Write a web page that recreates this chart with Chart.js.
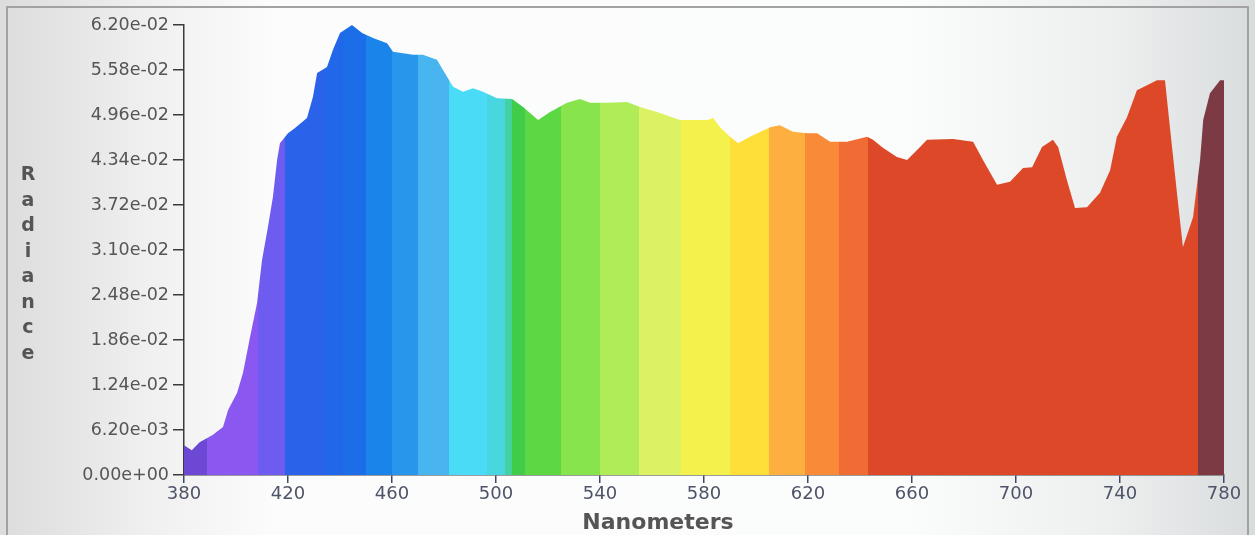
<!DOCTYPE html>
<html>
<head>
<meta charset="utf-8">
<script src="https://cdn.jsdelivr.net/npm/chart.js@4"></script>
<style>
  body {
    margin: 0;
    width: 1255px;
    height: 535px;
    overflow: hidden;
    background: linear-gradient(to right, #dcdcdc 0%, #f0f0f0 12%, #fcfcfc 22%, #fbfcfc 72%, #eef0f0 88%, #d9dcdd 100%);
    font-family: "DejaVu Sans", sans-serif;
  }
  #frame {
    position: absolute;
    left: 6px; top: 6px;
    width: 1243px; height: 540px;
    border: 2px solid #a2a2a2;
    border-bottom: none;
    box-sizing: border-box;
  }
  #ytitle {
    position: absolute;
    left: 18px; top: 161px;
    width: 20px;
    text-align: center;
    font-weight: bold;
    font-size: 19px;
    line-height: 25.5px;
    color: #555;
  }
  #xtitle {
    position: absolute;
    left: 558px; top: 509px;
    width: 200px;
    text-align: center;
    font-weight: bold;
    font-size: 22px;
    line-height: 26px;
    color: #555;
  }
  canvas { position: absolute; left: 0; top: 0; }
</style>
</head>
<body>
<div id="frame"></div>
<canvas id="spectrum" width="1255" height="535"></canvas>
<div id="ytitle">R<br>a<br>d<br>i<br>a<br>n<br>c<br>e</div>
<div id="xtitle">Nanometers</div>
<script>
// wavelength (nm) and radiance
const wavelengths = [380, 383, 386, 391, 395, 397, 400.4, 402.7, 405.4, 408.1, 410, 412.3, 414.2, 415.8, 416.9,
  420, 422.7, 427.3, 429.6, 431.2, 435, 437.3, 440, 444.6, 448.5, 452.7, 458.1, 460.4, 468.1, 471.9,
  477.3, 479.6, 483.5, 487.3, 491.2, 495, 500.4, 506.2, 510.4, 516.2, 520.8, 527.3, 532.3, 536.2, 542.7,
  550.4, 555.4, 561.9, 570.8, 581.2, 583.5, 586.2, 590, 593.1, 597.7, 605.4, 609.2, 614.2, 619.6, 623.5,
  628.5, 635, 642.7, 645, 648.8, 654.2, 658.1, 663.1, 665.8, 675.8, 683.5, 687.3, 692.7, 697.7, 702.7,
  706.2, 710, 714.2, 716.2, 719.6, 722.7, 727.3, 732.3, 736.2, 738.8, 742.7, 746.5, 750.4, 754.2, 757.3,
  759.2, 761.9, 764.2, 768.1, 770.8, 772, 774.6, 778.5, 780];
const radiance = [0.0041, 0.0034, 0.0045, 0.0055, 0.0066, 0.0090, 0.0113, 0.0141, 0.0190, 0.0237, 0.0296, 0.0342, 0.0383, 0.0434, 0.0457,
  0.0471, 0.0478, 0.0492, 0.0521, 0.0554, 0.0562, 0.0586, 0.0609, 0.0620, 0.0609, 0.0602, 0.0595, 0.0583, 0.0579, 0.0579,
  0.0572, 0.0558, 0.0535, 0.0528, 0.0533, 0.0528, 0.0519, 0.0518, 0.0507, 0.0489, 0.0500, 0.0513, 0.0518, 0.0513, 0.0513,
  0.0514, 0.0507, 0.0500, 0.0489, 0.0489, 0.0492, 0.0479, 0.0466, 0.0457, 0.0466, 0.0479, 0.0482, 0.0473, 0.0471, 0.0471,
  0.0459, 0.0459, 0.0466, 0.0462, 0.0451, 0.0438, 0.0434, 0.0452, 0.0462, 0.0463, 0.0459, 0.0434, 0.0400, 0.0404, 0.0423,
  0.0424, 0.0452, 0.0462, 0.0452, 0.0406, 0.0368, 0.0369, 0.0389, 0.0420, 0.0466, 0.0493, 0.0530, 0.0537, 0.0544, 0.0544,
  0.0479, 0.0389, 0.0314, 0.0355, 0.0434, 0.0489, 0.0526, 0.0544, 0.0544];

// colour bands under the curve: edges in nm, one colour per band
const bandEdges = [380, 389, 408.5, 419, 434, 441, 450, 460, 470, 482, 496.5, 503.5, 506, 511, 525, 540,
  555, 571, 590, 605, 619, 632, 643, 770, 780];
const bandColors = ['#6c48d4', '#8a58f0', '#6e5cf0', '#2a62ea', '#2266ea', '#1c6ee8', '#1a84ea', '#2896ea',
  '#48b4f0', '#4adcf6', '#48d6e0', '#44d0a0', '#40cc48', '#5cd844', '#88e44c', '#b0ec58', '#dcf262',
  '#f4f04c', '#fede38', '#fdb040', '#f88a38', '#f06c34', '#dc4828', '#7c3a44'];

const xTicks = [380, 420, 460, 500, 540, 580, 620, 660, 700, 740, 780];
const yTicks = [0, 0.0062, 0.0124, 0.0186, 0.0248, 0.031, 0.0372, 0.0434, 0.0496, 0.0558, 0.062];

const fmtExp = (v) => v.toExponential(2).replace(/e([+-])(\d)$/, (m, s, d) => 'e' + s + '0' + d);

const bandFill = (context) => {
  const chart = context.chart;
  const area = chart.chartArea;
  if (!area || !chart.scales.x) return null;
  const x = chart.scales.x;
  const g = chart.ctx.createLinearGradient(area.left, 0, area.right, 0);
  const w = area.right - area.left;
  bandColors.forEach((c, i) => {
    const a = Math.min(1, Math.max(0, (x.getPixelForValue(bandEdges[i]) - area.left) / w));
    const b = Math.min(1, Math.max(0, (x.getPixelForValue(bandEdges[i + 1]) - area.left) / w));
    g.addColorStop(a, c);
    g.addColorStop(b, c);
  });
  return g;
};

const axisColor = '#3a3a3a';

new Chart(document.getElementById('spectrum'), {
  type: 'line',
  data: {
    datasets: [{
      data: wavelengths.map((w, i) => ({ x: w, y: radiance[i] })),
      fill: 'origin',
      backgroundColor: bandFill,
      borderWidth: 0,
      pointRadius: 0,
      tension: 0,
    }],
  },
  options: {
    responsive: false,
    animation: false,
    layout: { padding: { top: 25, right: 31, bottom: 0, left: 0 } },
    plugins: { legend: { display: false }, tooltip: { enabled: false } },
    scales: {
      x: {
        type: 'linear',
        min: 380,
        max: 780,
        afterBuildTicks: (s) => { s.ticks = xTicks.map((v) => ({ value: v })); },
        afterFit: (s) => { s.height = 60; },
        border: { color: axisColor, width: 1.5 },
        grid: { drawOnChartArea: false, drawTicks: true, tickLength: 8, color: '#3c4a6a', lineWidth: 1.5 },
        ticks: { color: '#4e5468', font: { family: 'DejaVu Sans', size: 18 }, padding: 1, maxRotation: 0 },
        title: { display: false },
      },
      y: {
        min: 0,
        max: 0.062,
        afterBuildTicks: (s) => { s.ticks = yTicks.map((v) => ({ value: v })); },
        afterFit: (s) => { s.width = 184; },
        border: { color: axisColor, width: 1.5 },
        grid: { drawOnChartArea: false, drawTicks: true, tickLength: 11, color: axisColor, lineWidth: 1.5 },
        ticks: {
          color: '#555',
          font: { family: 'DejaVu Sans', size: 17.5 },
          padding: 4,
          callback: (v) => fmtExp(v),
        },
        title: { display: false },
      },
    },
  },
});
</script>
</body>
</html>
